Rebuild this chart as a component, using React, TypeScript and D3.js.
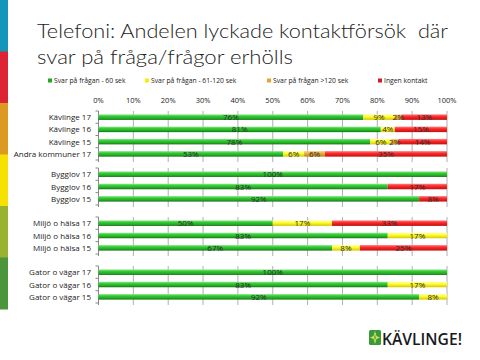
import React from "react";
import * as d3 from "d3";

const categories = [
  "Kävlinge 17", "Kävlinge 16", "Kävlinge 15", "Andra kommuner 17",
  "Bygglov 17", "Bygglov 16", "Bygglov 15",
  "Miljö o hälsa 17", "Miljö o hälsa 16", "Miljö o hälsa 15",
  "Gator o vägar 17", "Gator o vägar 16", "Gator o vägar 15",
];
const groupOf = [0, 0, 0, 0, 1, 1, 1, 2, 2, 2, 3, 3, 3];
const seriesNames = ["Svar på frågan - 60 sek", "Svar på frågan - 61-120 sek", "Svar på frågan >120 sek", "Ingen kontakt"];
const within60 = [76, 81, 78, 53, 100, 83, 92, 50, 83, 67, 100, 83, 92];
const within120 = [9, 4, 6, 6, 0, 0, 0, 17, 17, 8, 0, 17, 8];
const over120 = [2, 0, 2, 6, 0, 0, 0, 0, 0, 0, 0, 0, 0];
const noContact = [13, 15, 14, 35, 0, 17, 8, 33, 0, 25, 0, 0, 0];
const xTicks = [0, 10, 20, 30, 40, 50, 60, 70, 80, 90, 100];
const titleLines = ["Telefoni: Andelen lyckade kontaktförsök  där", "svar på fråga/frågor erhölls"];
const stripColors = ["#1297bb", "#dc2434", "#dc9a22", "#f6e200", "#9bb22e", "#4b963a"];

const seriesFill = ["url(#gGreen)", "url(#gYellow)", "url(#gOrange)", "url(#gRed)"];
const legendColors = ["#22a822", "#f4f000", "#e6a330", "#d81b1b"];

const groupRanges: [number, number][] = [[111, 160], [168, 205], [217, 254], [266, 303]];

export default function App() {
  const x = d3.scaleLinear().domain([0, 100]).range([98.5, 447]);
  const seriesVals = [within60, within120, over120, noContact];
  const groups = groupRanges.map((r, gi) => {
    const cats = categories.filter((_, i) => groupOf[i] === gi);
    const y = d3.scaleBand<string>().domain(cats).range(r).paddingInner(0).paddingOuter(0);
    return { cats, y, r };
  });
  const barH = 5.5;
  const font = "'Open Sans', 'DejaVu Sans', sans-serif";
  const legendX = [48, 145, 267, 378];
  const titleWidths = [411, 256];

  return (
    <svg width={480} height={360} style={{ position: "absolute", left: 0, top: 0, background: "#fff" }}>
      <defs>
        <linearGradient id="gGreen" x1="0" y1="0" x2="0" y2="1">
          <stop offset="0" stopColor="#8ce68c" />
          <stop offset="0.35" stopColor="#33cc33" />
          <stop offset="0.75" stopColor="#22a822" />
          <stop offset="1" stopColor="#136b13" />
        </linearGradient>
        <linearGradient id="gYellow" x1="0" y1="0" x2="0" y2="1">
          <stop offset="0" stopColor="#ffffa0" />
          <stop offset="0.4" stopColor="#ffff33" />
          <stop offset="1" stopColor="#d6c800" />
        </linearGradient>
        <linearGradient id="gOrange" x1="0" y1="0" x2="0" y2="1">
          <stop offset="0" stopColor="#f6d080" />
          <stop offset="0.4" stopColor="#eab040" />
          <stop offset="1" stopColor="#c08010" />
        </linearGradient>
        <linearGradient id="gRed" x1="0" y1="0" x2="0" y2="1">
          <stop offset="0" stopColor="#ff8080" />
          <stop offset="0.4" stopColor="#ff2a2a" />
          <stop offset="1" stopColor="#c01010" />
        </linearGradient>
      </defs>

      {stripColors.map((c, i) => (
        <rect key={"s" + i} x={0} y={i * 51.5} width={8} height={52} fill={c} />
      ))}

      {titleLines.map((t, i) => (
        <text key={"t" + i} x={37} y={38 + i * 25.5} fontFamily="Lato, 'Open Sans', sans-serif" fontWeight={300} fontSize={20.5} fill="#222" textLength={titleWidths[i]} lengthAdjust="spacingAndGlyphs" style={{ whiteSpace: "pre" }}>{t}</text>
      ))}

      {seriesNames.map((n, i) => (
        <g key={"l" + i}>
          <rect x={legendX[i]} y={78.5} width={4} height={4} fill={legendColors[i]} />
          <text x={legendX[i] + 6} y={83} fontFamily={font} fontSize={6.8} fill="#222">{n}</text>
        </g>
      ))}

      {xTicks.map((t) => (
        <text key={"xt" + t} x={x(t)} y={103} textAnchor="middle" fontFamily={font} fontSize={7.5} fill="#222">{t}%</text>
      ))}

      {groups.map((g, gi) => (
        <g key={"g" + gi}>
          {xTicks.map((t) => (
            <line key={"gl" + t} x1={x(t)} x2={x(t)} y1={g.r[0]} y2={g.r[1] + 2} stroke={t === 0 ? "#888" : "#b0b0b0"} strokeWidth={1} />
          ))}
          {g.cats.map((c, k) => (
            <line key={"tk" + k} x1={x(0) - 3} x2={x(0)} y1={(g.y(c) as number)} y2={(g.y(c) as number)} stroke="#888" />
          ))}
          <line x1={x(0) - 3} x2={x(0)} y1={g.r[1]} y2={g.r[1]} stroke="#888" />
          {g.cats.map((c) => {
            const idx = categories.indexOf(c);
            const cy = (g.y(c) as number) + g.y.bandwidth() / 2;
            let acc = 0;
            return (
              <g key={c}>
                <text x={91} y={cy + 3} textAnchor="end" fontFamily={font} fontSize={8} fill="#222">{c}</text>
                {seriesVals.map((s, si) => {
                  const v = s[idx];
                  const x0 = acc;
                  acc += v;
                  if (v <= 0) return null;
                  return (
                    <rect key={si} x={x(x0)} y={cy - barH / 2} width={x(x0 + v) - x(x0)} height={barH} fill={seriesFill[si]} />
                  );
                })}
              </g>
            );
          })}
          {g.cats.map((c) => {
            const idx = categories.indexOf(c);
            const cy = (g.y(c) as number) + g.y.bandwidth() / 2;
            let acc = 0;
            return (
              <g key={"lab" + c}>
                {seriesVals.map((s, si) => {
                  const v = s[idx];
                  const x0 = acc;
                  acc += v;
                  if (v <= 0) return null;
                  return (
                    <text key={si} x={x(x0 + v / 2)} y={cy + 3} textAnchor="middle" fontFamily={font} fontSize={8} fill="#2a2a2a">{v}%</text>
                  );
                })}
              </g>
            );
          })}
        </g>
      ))}

      <g transform="translate(369,330)">
        <rect x={0} y={0} width={12} height={15} fill="#3a9a3a" rx={1.5} />
        <path d="M6,1 L7.5,6 L11,7.5 L7.5,9 L6,14 L4.5,9 L1,7.5 L4.5,6 Z" fill="#cfe05a" />
        <path d="M6,4 L7,7.5 L6,11 L5,7.5 Z" fill="#6ab04a" />
      </g>
      <text x={382} y={344.5} fontFamily="'Open Sans', sans-serif" fontWeight={600} fontSize={16.5} fill="#1a1a1a" textLength={80} lengthAdjust="spacingAndGlyphs">KÄVLINGE!</text>
    </svg>
  );
}
